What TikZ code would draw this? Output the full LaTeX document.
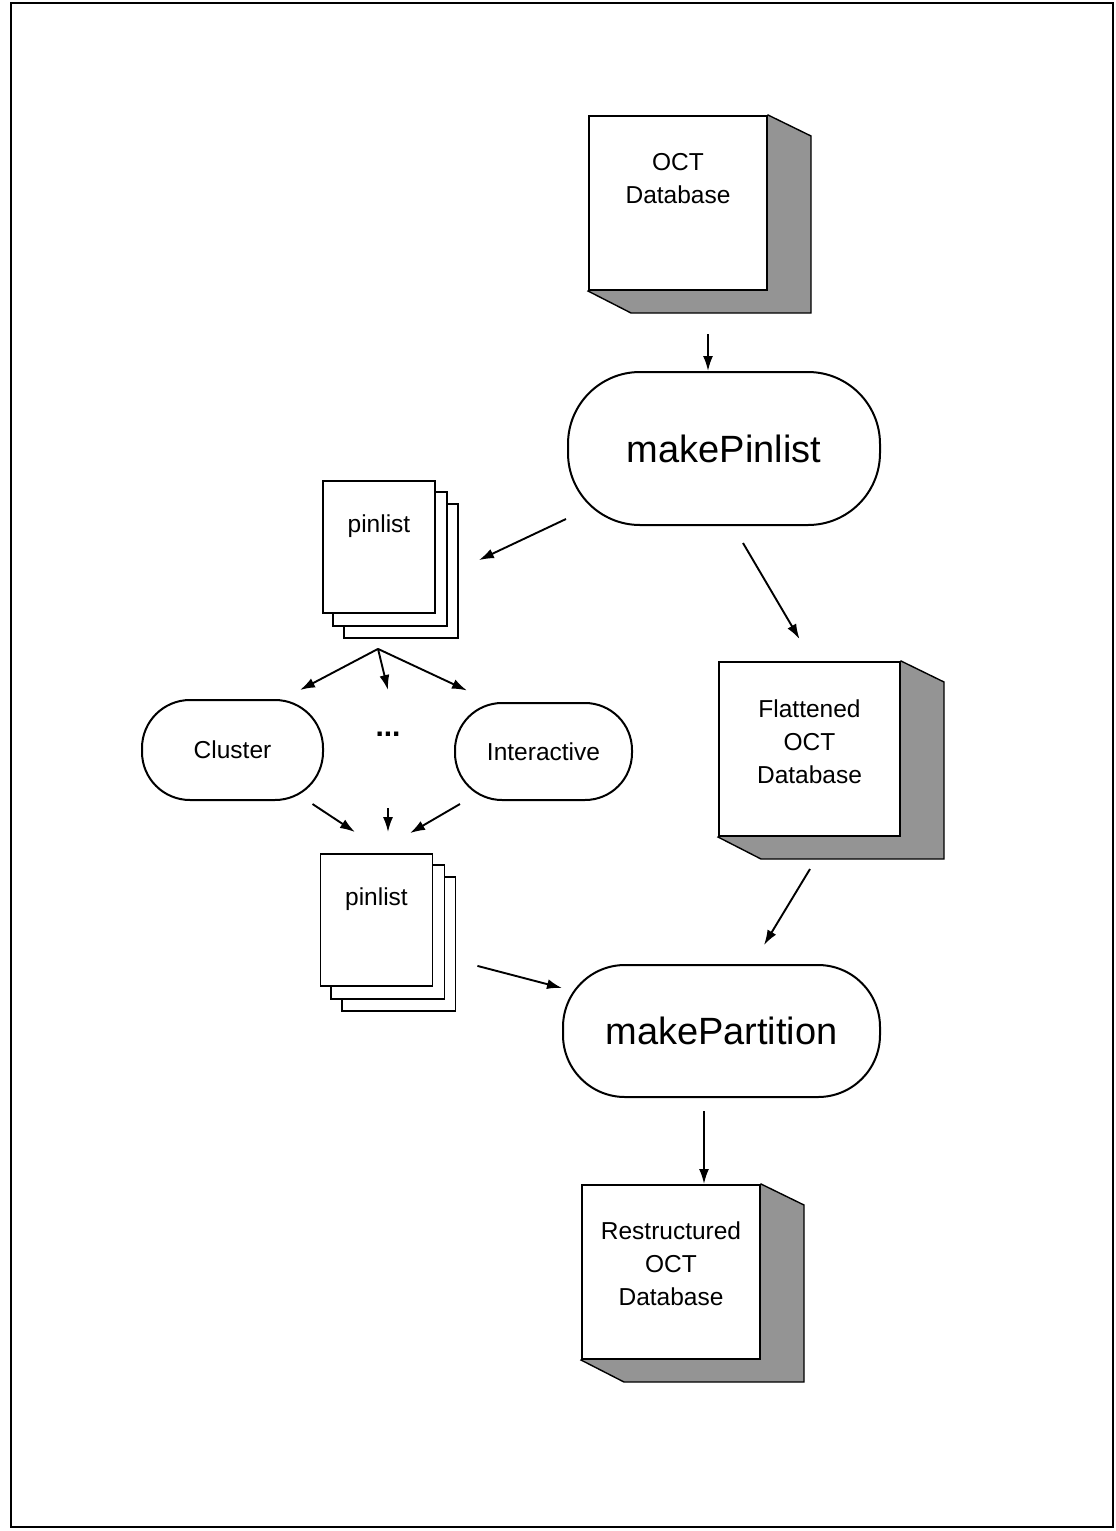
\documentclass[tikz,border=0pt]{standalone}
\usepackage{fontspec}
\setmainfont{Liberation Sans}
\usetikzlibrary{arrows.meta,calc,backgrounds}
\begin{document}
\begin{tikzpicture}[x=1pt,y=-1pt,
  arr/.style={line width=1.9pt,-{Latex[length=15pt,width=10pt]}},
  dbface/.style={draw,line width=2pt,fill=white,minimum width=178pt,minimum height=174pt,inner sep=0pt},
  dbshade/.style={fill=black!42,draw,line width=1.4pt},
  proc/.style={draw,line width=2pt,fill=white,inner sep=0pt},
  pagebox/.style={draw,line width=1.8pt,fill=white},
  page/.style={pagebox,minimum width=112pt,minimum height=132pt,inner sep=0pt},
  small/.style={font=\fontsize{24.5}{33}\selectfont,align=center},
  big/.style={font=\fontsize{38}{46}\selectfont}]
\useasboundingbox (0,0) rectangle (1116,1531);
\draw[line width=2.8pt] (11,3) rectangle (1113,1527);

% databases
\node[dbface] (db1) at (678,203) {};
\node[dbface,minimum width=181pt] (fdb) at (809.5,749) {};
\node[dbface] (rdb) at (671,1272) {};
\begin{scope}[on background layer]
  \foreach \d in {db1,fdb,rdb}{
    \filldraw[dbshade] (\d.north east) -- ++(43,21) -- ($(\d.south east)+(43,22)$)
      -- ($(\d.south west)+(43,22)$) -- (\d.south west) -- cycle;
  }
\end{scope}
\node[small] at ($(db1.center)+(0,-24.5)$) {OCT\\Database};
\node[small] at ($(fdb.center)+(0,-7)$) {Flattened\\OCT\\Database};
\node[small] at ($(rdb.center)+(0,-8.5)$) {Restructured\\OCT\\Database};

% processes
\node[proc,rounded corners=72pt,minimum width=312pt,minimum height=153pt,big] (mp1) at (724,448.5) {makePinlist};
\node[proc,rounded corners=62pt,minimum width=317pt,minimum height=132pt,big] (mpt) at (721.5,1031) {makePartition};
\node[proc,rounded corners=48pt,minimum width=181pt,minimum height=100pt,small] (cl) at (232.5,750) {Cluster};
\node[proc,rounded corners=47pt,minimum width=177pt,minimum height=97pt,small] (ia) at (543.5,751.5) {Interactive};
\node[font=\fontsize{30}{30}\selectfont\bfseries] (dots) at (388,734) {...};

% pinlists
\node[page] (pl1) at (379,547) {};
\node[page] (pl2) at (376.5,920) {};
\begin{scope}[on background layer]
  \foreach \p in {pl1,pl2}{
    \draw[pagebox] ($(\p.south west)+(22,24)$) rectangle ($(\p.north east)+(22,24)$);
    \draw[pagebox] ($(\p.south west)+(11,12)$) rectangle ($(\p.north east)+(11,12)$);
  }
\end{scope}
\node[small] at ($(pl1.north)+(0,46)$) {pinlist};
\node[small] at ($(pl2.north)+(0,46)$) {pinlist};

% connectors
\coordinate (a1) at ($(db1.south)+(30,43)$);
\draw[arr] (a1) -- (a1 |- mp1.north);
\draw[arr] ($(mp1.south west)+(-1,-7)$) -- ($(pl1.north east)+(43,80)$);
\draw[arr] ($(mp1.south)+(19,17)$) -- ($(fdb.north)+(-10,-22)$);
\coordinate (fork) at ($(pl1.south)+(-1,35)$);
\draw[arr] (fork) -- ($(cl.north)+(67.5,-9)$);
\draw[arr] (fork) -- ($(dots.center)+(0,-44)$);
\draw[arr] (fork) -- ($(ia.north)+(-76.5,-11.5)$);
\draw[arr] ($(cl.south)+(80,3)$) -- ($(pl2.north)+(-21.5,-21)$);
\draw[arr] ($(dots.center)+(0,74)$) -- ($(pl2.north)+(11.5,-21)$);
\draw[arr] ($(ia.south)+(-83.5,3)$) -- ($(pl2.north)+(33.5,-20)$);
\draw[arr] ($(pl2.south east)+(44,-21)$) -- ($(mpt.west)+(0,-43)$);
\draw[arr] ($(fdb.south)+(0.5,32)$) -- ($(mpt.north)+(42.5,-19)$);
\coordinate (a2) at ($(mpt.south)+(-17.5,13)$);
\draw[arr] (a2) -- (a2 |- rdb.north);
\end{tikzpicture}
\end{document}
